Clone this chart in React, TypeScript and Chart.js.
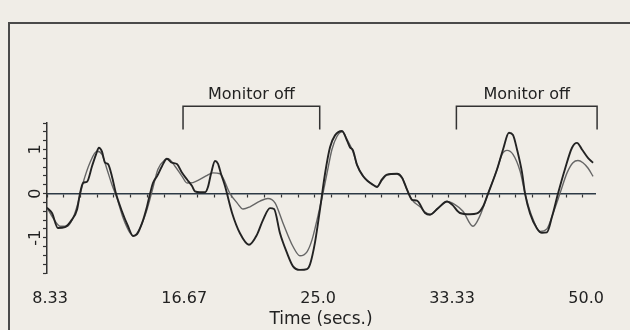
import React, { useEffect, useRef } from 'react';
import { Chart, registerables } from 'chart.js';

Chart.register(...registerables);

// Target signal (smooth, lighter trace)
const targetTime = [
  8.14, 8.51, 8.95, 9.38, 9.76, 10.07, 10.38, 10.81, 11.25, 11.56, 11.87, 12.18, 12.49, 12.87, 13.3, 13.55,
  13.92, 14.36, 14.67, 15.04, 15.48, 15.66, 16.1, 16.54, 16.85, 17.22, 17.65, 18.03, 18.46, 18.9, 19.52,
  19.96, 20.33, 20.76, 21.39, 21.88, 22.32, 22.82, 23.44, 23.87, 24.31, 24.62, 24.93, 25.24, 25.55, 25.86,
  26.18, 26.49, 26.8, 27.17, 27.42, 27.79, 28.41, 28.66, 28.97, 29.28, 29.91, 30.22, 30.53, 30.84, 31.34,
  31.65, 31.96, 32.46, 33.02, 33.51, 34.01, 34.63, 35.07, 35.57, 36.13, 36.44, 36.75, 37.12, 37.56, 37.87,
  38.3, 38.8, 39.23, 39.61, 40.04, 40.48, 40.85, 41.16, 41.47, 41.78, 42.1,
];
const targetValue = [
  -0.32, -0.55, -0.74, -0.74, -0.55, -0.21, 0.24, 0.7, 0.96, 0.89, 0.55, 0.2, -0.1, -0.55, -0.89, -0.96,
  -0.78, -0.36, 0.05, 0.55, 0.77, 0.79, 0.62, 0.39, 0.24, 0.25, 0.32, 0.4, 0.47, 0.45, 0.0,
  -0.21, -0.35, -0.3, -0.17, -0.11, -0.21, -0.67, -1.2, -1.41, -1.32, -1.05, -0.6, -0.1, 0.45, 1.0,
  1.3, 1.4, 1.23, 0.95, 0.65, 0.4, 0.2, 0.16, 0.3, 0.42, 0.45, 0.36, 0.09, -0.14, -0.3,
  -0.42, -0.47, -0.33, -0.18, -0.25, -0.4, -0.74, -0.5, 0.0, 0.55, 0.89, 0.98, 0.89, 0.51, 0.0,
  -0.52, -0.86, -0.8, -0.45, 0.0, 0.47, 0.7, 0.75, 0.7, 0.58, 0.39,
];

// Tracking response (darker trace with steps)
const responseTime = [
  8.14, 8.45, 8.82, 9.26, 9.69, 10.01, 10.19, 10.38, 10.63, 10.94, 11.19, 11.37, 11.56, 11.75, 11.93, 12.18,
  12.43, 12.8, 13.18, 13.49, 13.74, 14.05, 14.36, 14.55, 14.73, 14.98, 15.29, 15.6, 15.91, 16.22, 16.54,
  16.85, 17.16, 17.34, 17.65, 17.97, 18.15, 18.34, 18.59, 18.77, 18.96, 19.21, 19.65, 20.14, 20.7, 21.2,
  21.57, 22.01, 22.26, 22.63, 23.07, 23.44, 23.87, 24.31, 24.5, 24.81, 25.12, 25.43, 25.74, 26.05, 26.49,
  26.8, 26.98, 27.17, 27.42, 27.79, 28.1, 28.41, 28.66, 28.97, 29.28, 29.91, 30.22, 30.53, 30.84, 31.15,
  31.65, 31.96, 32.46, 33.02, 33.33, 33.82, 34.45, 34.88, 35.25, 35.57, 36.13, 36.5, 36.87, 37.12, 37.37,
  37.68, 37.87, 38.18, 38.61, 38.92, 39.23, 39.55, 39.92, 40.35, 40.79, 41.1, 41.41, 41.78, 42.1,
];
const responseValue = [
  -0.32, -0.44, -0.78, -0.76, -0.59, -0.36, 0.0, 0.24, 0.27, 0.62, 0.89, 1.04, 0.95, 0.7, 0.67, 0.39,
  0.0, -0.4, -0.74, -0.96, -0.92, -0.67, -0.29, 0.0, 0.24, 0.39, 0.62, 0.79, 0.7, 0.67, 0.47,
  0.32, 0.17, 0.05, 0.03, 0.03, 0.15, 0.45, 0.74, 0.68, 0.45, 0.17, -0.44, -0.9, -1.16, -0.93,
  -0.6, -0.33, -0.35, -0.9, -1.35, -1.65, -1.73, -1.71, -1.6, -1.1, -0.35, 0.45, 1.05, 1.32, 1.42,
  1.2, 1.05, 0.98, 0.65, 0.4, 0.28, 0.2, 0.15, 0.32, 0.43, 0.45, 0.36, 0.09, -0.14, -0.16,
  -0.44, -0.48, -0.33, -0.18, -0.25, -0.44, -0.47, -0.45, -0.3, 0.0, 0.55, 1.0, 1.38, 1.33, 1.0,
  0.48, 0.0, -0.45, -0.79, -0.89, -0.88, -0.52, 0.0, 0.55, 1.04, 1.15, 1.0, 0.81, 0.7,
];

const xTickValues = [8.33, 16.67, 25.0, 33.33, 41.67];
const xTickLabels = ['8.33', '16.67', '25.0', '33.33', '50.0'];
const yLabelValues = [-1, 0, 1];
const yLabelTexts = ['-1', '0', '1'];
const monitorOffStart = [16.6, 33.6];
const monitorOffEnd = [25.1, 42.35];
const monitorOffLabel = 'Monitor off';
const xTitle = 'Time (secs.)';

const X_MIN = 8.14;
const X_MAX = 42.22;
const Y_MIN = -1.8;
const Y_MAX = 1.6;
const MINOR_X_STEP = 8.333 / 8;
const MINOR_Y_STEP = 0.2;
const BRACKET_TOP = 1.98;
const BRACKET_LEG = 1.45;

const FONT = 'DejaVu Sans';
const INK = '#222222';

const decorPlugin = {
  id: 'decor',
  beforeDraw(chart: any) {
    const { ctx } = chart;
    ctx.save();
    ctx.strokeStyle = '#4a4a4a';
    ctx.lineWidth = 2;
    ctx.beginPath();
    ctx.moveTo(9, 330);
    ctx.lineTo(9, 23);
    ctx.lineTo(630, 23);
    ctx.stroke();
    ctx.restore();
  },
  afterDraw(chart: any) {
    const { ctx } = chart;
    const xs = chart.scales.x;
    const ys = chart.scales.y;
    ctx.save();
    ctx.strokeStyle = '#333333';
    ctx.lineWidth = 1.5;
    ctx.fillStyle = INK;
    ctx.font = `16px "${FONT}"`;
    ctx.textAlign = 'center';
    ctx.textBaseline = 'middle';
    monitorOffStart.forEach((s, i) => {
      const x1 = xs.getPixelForValue(s);
      const x2 = xs.getPixelForValue(monitorOffEnd[i]);
      const yt = ys.getPixelForValue(BRACKET_TOP);
      const yb = ys.getPixelForValue(BRACKET_LEG);
      ctx.beginPath();
      ctx.moveTo(x1, yb);
      ctx.lineTo(x1, yt);
      ctx.lineTo(x2, yt);
      ctx.lineTo(x2, yb);
      ctx.stroke();
      ctx.fillText(monitorOffLabel, (x1 + x2) / 2, yt - 11);
    });
    ctx.restore();
  },
};

export default function App() {
  const ref = useRef<HTMLCanvasElement | null>(null);

  useEffect(() => {
    if (!ref.current) return;
    const chart = new Chart(ref.current, {
      type: 'line',
      data: {
        datasets: [
          {
            label: 'Response',
            data: responseTime.map((t, i) => ({ x: t, y: responseValue[i] })),
            borderColor: '#232323',
            borderWidth: 1.9,
            pointRadius: 0,
            cubicInterpolationMode: 'monotone',
            fill: false,
          },
          {
            label: 'Target',
            data: targetTime.map((t, i) => ({ x: t, y: targetValue[i] })),
            borderColor: '#666666',
            borderWidth: 1.4,
            pointRadius: 0,
            cubicInterpolationMode: 'monotone',
            fill: false,
          },
        ],
      },
      options: {
        responsive: false,
        animation: false,
        events: [],
        layout: { padding: { top: 123, right: 35, left: 0, bottom: 0 } },
        plugins: { legend: { display: false }, tooltip: { enabled: false } },
        scales: {
          x: {
            type: 'linear',
            position: 'bottom',
            min: X_MIN,
            max: X_MAX,
            afterBuildTicks: (s: any) => {
              s.ticks = xTickValues.map((v) => ({ value: v }));
            },
            afterFit: (s: any) => {
              s.height = 57;
            },
            grid: { display: false, drawTicks: false },
            border: { display: false },
            ticks: {
              autoSkip: false,
              minRotation: 0,
              maxRotation: 0,
              padding: 16,
              color: INK,
              font: { family: FONT, size: 16 },
              callback: (_v: any, i: number) => xTickLabels[i],
            },
            title: {
              display: true,
              text: xTitle,
              color: INK,
              font: { family: FONT, size: 17 },
              padding: { top: 0, bottom: 0 },
            },
          },
          x2: {
            type: 'linear',
            axis: 'x',
            position: { y: 0 },
            min: X_MIN,
            max: X_MAX,
            afterBuildTicks: (s: any) => {
              const t: any[] = [];
              for (let k = 0; X_MIN + k * MINOR_X_STEP <= X_MAX + 1e-9; k++) t.push({ value: X_MIN + k * MINOR_X_STEP });
              s.ticks = t;
            },
            grid: { drawOnChartArea: false, drawTicks: true, tickLength: 3, tickColor: '#333333', tickWidth: 1.2 },
            border: { display: true, color: '#2d3a46', width: 1.5 },
            ticks: { display: false },
          },
          y: {
            type: 'linear',
            position: 'left',
            min: Y_MIN,
            max: Y_MAX,
            afterBuildTicks: (s: any) => {
              const t: any[] = [];
              const n = Math.round((Y_MAX - Y_MIN) / MINOR_Y_STEP);
              for (let k = 0; k <= n; k++) t.push({ value: Math.round((Y_MIN + k * MINOR_Y_STEP) * 10) / 10 });
              s.ticks = t;
            },
            afterFit: (s: any) => {
              s.width = 47;
            },
            grid: { drawOnChartArea: false, drawTicks: true, tickLength: 4, tickColor: '#333333', tickWidth: 1.2 },
            border: { display: true, color: '#333333', width: 1.5 },
            ticks: {
              autoSkip: false,
              minRotation: 90,
              maxRotation: 90,
              crossAlign: 'center',
              padding: -1,
              color: INK,
              font: { family: FONT, size: 16 },
              callback: (v: any) => {
                const idx = yLabelValues.findIndex((lv) => Math.abs(lv - Number(v)) < 1e-6);
                return idx >= 0 ? yLabelTexts[idx] : '';
              },
            },
          },
        },
      },
      plugins: [decorPlugin],
    } as any);
    return () => chart.destroy();
  }, []);

  return (
    <div style={{ position: 'fixed', left: 0, top: 0, width: 630, height: 330, background: '#f0ede7' }}>
      <canvas ref={ref} width={630} height={330} style={{ display: 'block', width: 630, height: 330 }} />
    </div>
  );
}
